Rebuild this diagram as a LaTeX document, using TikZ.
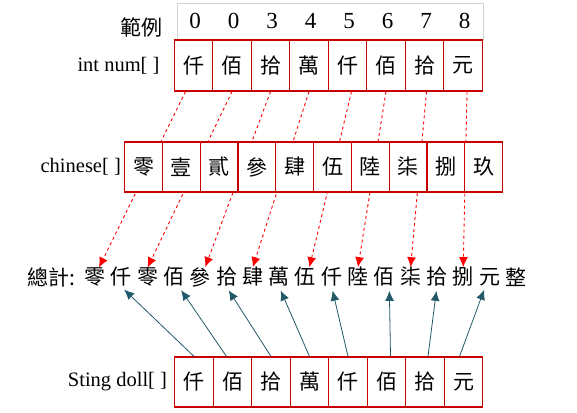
\documentclass[tikz,border=0pt]{standalone}
\usepackage{fontspec}
\setmainfont{Liberation Serif}
\newfontfamily\cjk{Noto Sans CJK TC}
\usetikzlibrary{arrows.meta, positioning}
\definecolor{boxred}{RGB}{200,0,0}
\definecolor{gridgrey}{RGB}{210,210,210}
\definecolor{arrowteal}{RGB}{33,89,104}

\begin{document}
\begin{tikzpicture}[x=1pt, y=1pt, node distance=38.5pt]
    \tikzstyle{cell} = [rectangle, minimum width=38.5pt, minimum height=51pt, inner sep=0pt, draw=boxred, line width=1.1pt, fill=white, font=\cjk\fontsize{21}{21}\selectfont]
    \tikzstyle{digit} = [inner sep=0pt, font=\fontsize{23}{23}\selectfont]
    \tikzstyle{word} = [inner sep=0pt, font=\cjk\fontsize{21}{21}\selectfont]
    \tikzstyle{tag} = [inner sep=0pt, font=\fontsize{20.5}{24}\selectfont]
    \tikzstyle{maparrow} = [red, dashed, line width=0.9pt, -{Latex[length=10pt,width=9pt]}]
    \tikzstyle{unitarrow} = [arrowteal, line width=0.8pt, -{Latex[length=10pt,width=9pt]}, shorten >=4pt]

    \useasboundingbox (0,0) rectangle (577,-412);

    % example digits
    \node (range) [rectangle, draw=gridgrey, line width=0.8pt, minimum width=306pt, minimum height=37pt] at (330,-21.5) {};
    \node (d1) [digit] at (195,-21) {0};
    \node (d2) [digit, right of=d1] {0};
    \node (d3) [digit, right of=d2] {3};
    \node (d4) [digit, right of=d3] {4};
    \node (d5) [digit, right of=d4] {5};
    \node (d6) [digit, right of=d5] {6};
    \node (d7) [digit, right of=d6] {7};
    \node (d8) [digit, right of=d7] {8};
    \node (rangetag) [word, left=14pt of range, yshift=-6pt] {範例};

    % int num[ ]
    \node (n1) [cell] at (193.5,-65.5) {仟};
    \node (n2) [cell, right of=n1] {佰};
    \node (n3) [cell, right of=n2] {拾};
    \node (n4) [cell, right of=n3] {萬};
    \node (n5) [cell, right of=n4] {仟};
    \node (n6) [cell, right of=n5] {佰};
    \node (n7) [cell, right of=n6] {拾};
    \node (n8) [cell, right of=n7] {元};
    \node (numtag) [tag, left=14pt of n1] {int num[ ]};

    % total line
    \node (total) [word, anchor=east] at (76,-277) {總計:};
    \begin{scope}[node distance=26.3pt]
    \node (t1) [word] at (95,-277) {零};
    \node (t2) [word, right of=t1] {仟};
    \node (t3) [word, right of=t2] {零};
    \node (t4) [word, right of=t3] {佰};
    \node (t5) [word, right of=t4] {參};
    \node (t6) [word, right of=t5] {拾};
    \node (t7) [word, right of=t6] {肆};
    \node (t8) [word, right of=t7] {萬};
    \node (t9) [word, right of=t8] {伍};
    \node (t10) [word, right of=t9] {仟};
    \node (t11) [word, right of=t10] {陸};
    \node (t12) [word, right of=t11] {佰};
    \node (t13) [word, right of=t12] {柒};
    \node (t14) [word, right of=t13] {拾};
    \node (t15) [word, right of=t14] {捌};
    \node (t16) [word, right of=t15] {元};
    \node (t17) [word, right of=t16] {整};
    \end{scope}

    % digit to chinese word
    \draw [maparrow] ([xshift=-8pt]n1.south) -- ([xshift=4pt]t1.north);
    \draw [maparrow] (n2.south) -- (t3.north);
    \draw [maparrow] (n3.south) -- ([xshift=5pt]t5.north);
    \draw [maparrow] (n4.south) -- (t7.north);
    \draw [maparrow] ([xshift=4pt]n5.south) -- ([xshift=4pt]t9.north);
    \draw [maparrow] (n6.south) -- (t11.north);
    \draw [maparrow] ([xshift=2pt]n7.south) -- (t13.north);
    \draw [maparrow] ([xshift=4pt]n8.south) -- (t15.north);

    % chinese[ ]
    \begin{scope}[node distance=37.8pt]
    \node (c1) [cell, minimum width=37.8pt, minimum height=50pt] at (143.5,-167) {零};
    \node (c2) [cell, minimum width=37.8pt, minimum height=50pt, right of=c1] {壹};
    \node (c3) [cell, minimum width=37.8pt, minimum height=50pt, right of=c2] {貳};
    \node (c4) [cell, minimum width=37.8pt, minimum height=50pt, right of=c3] {參};
    \node (c5) [cell, minimum width=37.8pt, minimum height=50pt, right of=c4] {肆};
    \node (c6) [cell, minimum width=37.8pt, minimum height=50pt, right of=c5] {伍};
    \node (c7) [cell, minimum width=37.8pt, minimum height=50pt, right of=c6] {陸};
    \node (c8) [cell, minimum width=37.8pt, minimum height=50pt, right of=c7] {柒};
    \node (c9) [cell, minimum width=37.8pt, minimum height=50pt, right of=c8] {捌};
    \node (c10) [cell, minimum width=37.8pt, minimum height=50pt, right of=c9] {玖};
    \end{scope}
    \node (chinesetag) [tag, left=3pt of c1] {chinese[ ]};

    % Sting doll[ ]
    \node (s1) [cell, minimum height=50pt] at (194,-382) {仟};
    \node (s2) [cell, minimum height=50pt, right of=s1] {佰};
    \node (s3) [cell, minimum height=50pt, right of=s2] {拾};
    \node (s4) [cell, minimum height=50pt, right of=s3] {萬};
    \node (s5) [cell, minimum height=50pt, right of=s4] {仟};
    \node (s6) [cell, minimum height=50pt, right of=s5] {佰};
    \node (s7) [cell, minimum height=50pt, right of=s6] {拾};
    \node (s8) [cell, minimum height=50pt, right of=s7] {元};
    \node (dolltag) [tag, left=7pt of s1] {Sting doll[ ]};

    % unit words
    \draw [unitarrow] (s1.north) -- (t2.south);
    \draw [unitarrow] ([xshift=-6pt]s2.north) -- ([xshift=5pt]t4.south);
    \draw [unitarrow] (s3.north) -- (t6.south);
    \draw [unitarrow] (s4.north) -- (t8.south);
    \draw [unitarrow] (s5.north) -- (t10.south);
    \draw [unitarrow] ([xshift=4pt]s6.north) -- ([xshift=5pt]t12.south);
    \draw [unitarrow] ([xshift=3pt]s7.north) -- (t14.south);
    \draw [unitarrow] ([xshift=-4pt]s8.north) -- ([xshift=-4pt]t16.south);
\end{tikzpicture}
\end{document}
